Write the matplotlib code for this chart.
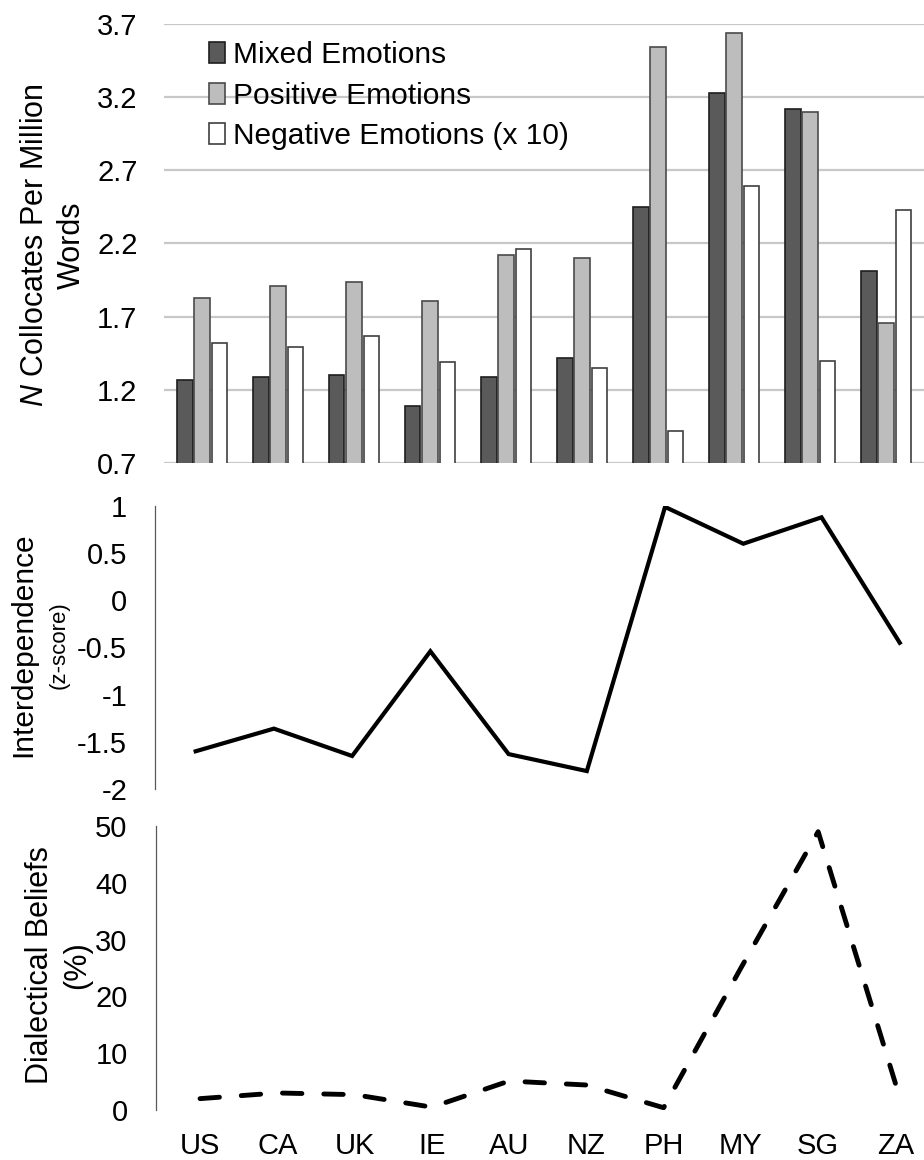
import numpy as np
import matplotlib
matplotlib.use("Agg")
import matplotlib.pyplot as plt

plt.rcParams['font.family'] = ['Liberation Sans', 'DejaVu Sans']
plt.rcParams['mathtext.fontset'] = 'custom'
plt.rcParams['mathtext.it'] = 'Liberation Sans:italic'
plt.rcParams['mathtext.rm'] = 'Liberation Sans'

countries = ["US", "CA", "UK", "IE", "AU", "NZ", "PH", "MY", "SG", "ZA"]
mixed = [1.27, 1.29, 1.30, 1.09, 1.29, 1.42, 2.45, 3.23, 3.12, 2.01]
positive = [1.83, 1.91, 1.94, 1.81, 2.12, 2.10, 3.54, 3.64, 3.10, 1.66]
negative = [1.52, 1.49, 1.57, 1.39, 2.16, 1.35, 0.92, 2.59, 1.40, 2.43]
interdep = [-1.60, -1.36, -1.65, -0.54, -1.63, -1.81, 0.99, 0.60, 0.88, -0.45]
dialect = [2.0, 3.0, 2.7, 0.5, 5.1, 4.4, 0.4, 25.0, 49.0, 4.7]

top_ticks = [0.7, 1.2, 1.7, 2.2, 2.7, 3.2, 3.7]
mid_ticks = [-2, -1.5, -1, -0.5, 0, 0.5, 1]
bot_ticks = [0, 10, 20, 30, 40, 50]

W, H = 924, 1160
fig = plt.figure(figsize=(W / 100, H / 100), dpi=100)

def box(l, t, r, b):
    return [l / W, 1 - b / H, (r - l) / W, (b - t) / H]

fs = 21
x = np.arange(len(countries))

# --- top: bars
ax1 = fig.add_axes(box(164, 24, 924, 463))
bw = 0.2
ax1.bar(x - 0.225, mixed, bw, color="#5a5a5a", edgecolor="#1e1e1e",
        linewidth=1.2, label="Mixed Emotions", zorder=3)
ax1.bar(x, positive, bw, color="#bdbdbd", edgecolor="#4a4a4a",
        linewidth=1.2, label="Positive Emotions", zorder=3)
ax1.bar(x + 0.225, negative, bw, color="white", edgecolor="#404040",
        linewidth=1.2, label="Negative Emotions (x 10)", zorder=3)
ax1.set_ylim(0.7, 3.7)
ax1.set_xlim(-0.5, 9.5)
ax1.set_yticks(top_ticks)
ax1.set_yticklabels([f"{t:.1f}" for t in top_ticks], fontsize=fs)
ax1.set_xticks([])
ax1.tick_params(axis="y", length=0, pad=19)
ax1.grid(axis="y", color="#c8c8c8", linewidth=1.6, zorder=0)
for s in ax1.spines.values():
    s.set_visible(False)
ax1.legend(loc="upper left", bbox_to_anchor=(209 / W, 1 - 41 / H),
           bbox_transform=fig.transFigure, frameon=False, fontsize=fs + 0.5,
           handlelength=0.55, handleheight=0.7, handletextpad=0.25,
           labelspacing=0.42, borderpad=0, borderaxespad=0)
fig.text(35 / W, 1 - 245 / H, "$\\it{N}$ Collocates Per Million", rotation=90,
         ha="center", va="center", fontsize=22)
fig.text(72 / W, 1 - 245 / H, "Words", rotation=90,
         ha="center", va="center", fontsize=22)

# --- middle: interdependence
ax2 = fig.add_axes(box(155, 506, 924, 789))
ax2.plot(x, interdep, color="black", linewidth=3.0, solid_joinstyle="miter")
ax2.set_ylim(-2, 1)
ax2.set_xlim(-0.52, 9.31)
ax2.set_yticks(mid_ticks)
ax2.set_yticklabels(["-2", "-1.5", "-1", "-0.5", "0", "0.5", "1"], fontsize=fs)
ax2.set_xticks([])
ax2.tick_params(axis="y", length=0, pad=20)
for k in ["top", "right", "bottom"]:
    ax2.spines[k].set_visible(False)
ax2.spines["left"].set_color("#595959")
ax2.spines["left"].set_linewidth(0.9)
fig.text(23 / W, 1 - 645 / H, "Interdependence", rotation=90,
         ha="center", va="center", fontsize=21.5)
fig.text(59 / W, 1 - 645 / H, "(z-score)", rotation=90,
         ha="center", va="center", fontsize=16)

# --- bottom: dialectical beliefs
ax3 = fig.add_axes(box(156, 826, 924, 1110))
ax3.plot(x, dialect, color="black", linewidth=3.5, linestyle=(0, (4, 4.5)),
         dash_capstyle="round")
ax3.set_ylim(0, 50)
ax3.set_xlim(-0.57, 9.37)
ax3.set_yticks(bot_ticks)
ax3.set_yticklabels([str(t) for t in bot_ticks], fontsize=fs)
ax3.set_xticks(x)
ax3.set_xticklabels(countries, fontsize=fs)
ax3.tick_params(axis="y", length=0, pad=20.5)
ax3.tick_params(axis="x", length=0, pad=16)
for k in ["top", "right", "bottom"]:
    ax3.spines[k].set_visible(False)
ax3.spines["left"].set_color("#595959")
ax3.spines["left"].set_linewidth(0.9)
fig.text(40 / W, 1 - 965 / H, "Dialectical Beliefs", rotation=90,
         ha="center", va="center", fontsize=22)
fig.text(77 / W, 1 - 965 / H, "(%)", rotation=90,
         ha="center", va="center", fontsize=22)

fig.savefig("out.png", dpi=100, facecolor="white")
